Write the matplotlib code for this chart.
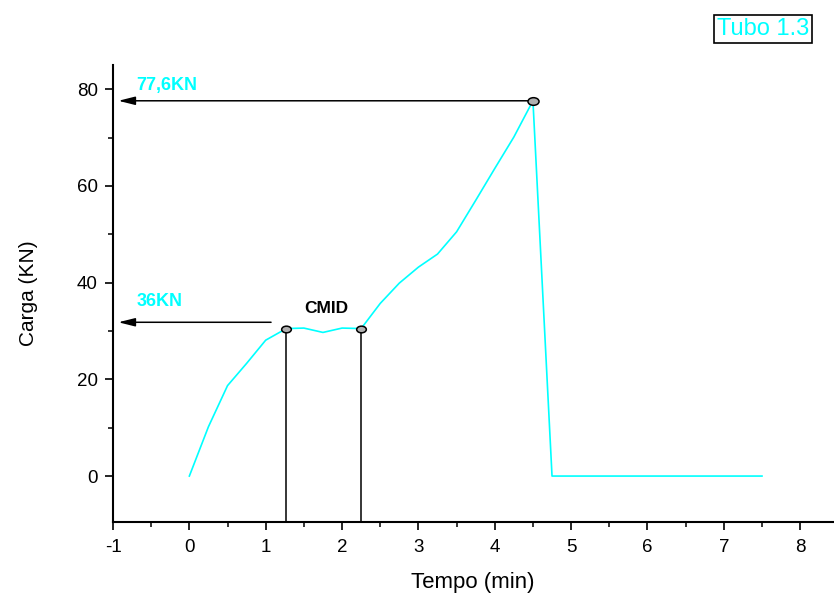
import matplotlib

matplotlib.use("Agg")
import matplotlib.pyplot as plt
from matplotlib.markers import MarkerStyle
from matplotlib.transforms import Affine2D
from matplotlib.ticker import MultipleLocator

plt.rcParams["font.family"] = ["Liberation Sans", "DejaVu Sans"]
plt.rcParams["axes.unicode_minus"] = False

# curve (time in min, load in kN)
tempo = [0.0, 0.25, 0.5, 0.75, 1.0, 1.27, 1.5, 1.75, 2.0, 2.25, 2.5, 2.75,
         3.0, 3.25, 3.5, 3.75, 4.0, 4.25, 4.5, 4.75, 7.5]
carga = [0.0, 10.2, 18.7, 23.3, 28.1, 30.5, 30.6, 29.7, 30.6, 30.5, 35.7, 39.9,
         43.2, 45.9, 50.5, 57.0, 63.6, 70.1, 77.6, 0.0, 0.0]

# marked points: start/end of CMID plateau and the peak
cmid_x = [1.27, 2.25]
cmid_y = [30.5, 30.5]
pico_x = 4.5
pico_y = 77.6
seta_36_y = 31.8
seta_36_x0 = 1.07

fig = plt.figure(figsize=(8.34, 5.96), dpi=100)
ax = fig.add_axes([113 / 834, 74 / 596, 720 / 834, 457 / 596])

ax.plot(tempo, carga, color="#00FFFF", lw=1.2, zorder=2)

# vertical lines down from the CMID points
for x, y in zip(cmid_x, cmid_y):
    ax.plot([x, x], [-9.5, y], color="black", lw=1.1, zorder=3)

# arrows to the y axis
seta = dict(arrowstyle="-|>,head_length=1.0,head_width=0.25",
            color="black", lw=1.1, shrinkA=0, shrinkB=0)
ax.annotate("", xy=(-0.93, pico_y), xytext=(pico_x, pico_y), arrowprops=seta)
ax.annotate("", xy=(-0.93, seta_36_y), xytext=(seta_36_x0, seta_36_y),
            arrowprops=seta)

oval = MarkerStyle("o", transform=Affine2D().scale(1.45, 1.0))
ax.plot(cmid_x, cmid_y, linestyle="none", marker=oval, ms=4.8,
        mfc="#b0b0b0", mec="black", mew=1.1, zorder=4)
ax.plot([pico_x], [pico_y], linestyle="none", marker=oval, ms=5.5,
        mfc="#b0b0b0", mec="black", mew=1.1, zorder=4)

ax.text(-0.69, 80.8, "77,6KN", color="#00FFFF", fontsize=13,
        fontweight="bold", va="center", ha="left")
ax.text(-0.69, 36.0, "36KN", color="#00FFFF", fontsize=13,
        fontweight="bold", va="center", ha="left")
ax.text(1.79, 34.7, "CMID", color="black", fontsize=12.5,
        fontweight="bold", va="center", ha="center")

ax.set_xlim(-1, 8.43)
ax.set_ylim(-9.5, 85)
ax.xaxis.set_major_locator(MultipleLocator(1))
ax.xaxis.set_minor_locator(MultipleLocator(0.5))
ax.yaxis.set_major_locator(MultipleLocator(20))
ax.yaxis.set_minor_locator(MultipleLocator(10))

for side in ("top", "right"):
    ax.spines[side].set_visible(False)
for side in ("left", "bottom"):
    ax.spines[side].set_linewidth(1.5)

ax.tick_params(which="major", direction="out", length=6, width=1.2,
               labelsize=13.5)
ax.tick_params(axis="x", which="major", pad=6)
ax.tick_params(axis="y", which="major", pad=5)
ax.tick_params(which="minor", direction="out", length=3.3, width=1.1)

ax.set_xlabel("Tempo (min)", fontsize=16, labelpad=12)
ax.set_ylabel("Carga (KN)", fontsize=15, labelpad=28)

fig.text(763 / 834, 1 - 29 / 596, "Tubo 1.3", color="#00FFFF", fontsize=17,
         ha="center", va="center",
         bbox=dict(boxstyle="square,pad=0.12", fc="white", ec="black", lw=1.2))

fig.savefig("out.png", dpi=100)
